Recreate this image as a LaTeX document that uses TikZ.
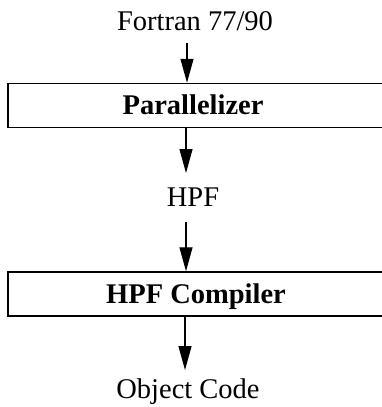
\documentclass[tikz,border=0pt]{standalone}
\usepackage{fontspec}
\setmainfont{Liberation Serif}
\usetikzlibrary{arrows.meta}
\begin{document}
\begin{tikzpicture}[x=1pt,y=-1pt,
  lbl/.style={font=\fontsize{28.5}{31}\selectfont, inner sep=0pt, anchor=base},
  title/.style={font=\fontsize{28.5}{31}\selectfont\bfseries, inner sep=0pt, anchor=base},
  stage/.style={draw, line width=1.5pt, minimum width=380pt, minimum height=44pt, inner sep=0pt},
  flow/.style={line width=1.2pt, -{Triangle[length=24pt,width=13pt]}}]
\useasboundingbox (0,0) rectangle (382,407);

% input language
\node[lbl] (src) at (195,30) {Fortran 77/90};

% first stage
\node[stage] (par) at (198,105.5) {};
\node[title] (partext) at (193,114) {Parallelizer};

% intermediate language
\node[lbl] (hpf) at (193,206) {HPF};

% second stage
\node[stage] (comp) at (198,294) {};
\node[title] (comptext) at (196,303) {HPF Compiler};

% output
\node[lbl] (obj) at (188,398) {Object Code};

% flow arrows
\coordinate (a1) at (187,43);
\coordinate (a2) at (186,173);
\coordinate (a3) at (186,222);
\coordinate (a4) at (185,370);
\draw[flow] (a1) -- (a1 |- par.north);
\draw[flow] (a2 |- par.south) -- (a2);
\draw[flow] (a3) -- (a3 |- comp.north);
\draw[flow] (a4 |- comp.south) -- (a4);
\end{tikzpicture}
\end{document}
